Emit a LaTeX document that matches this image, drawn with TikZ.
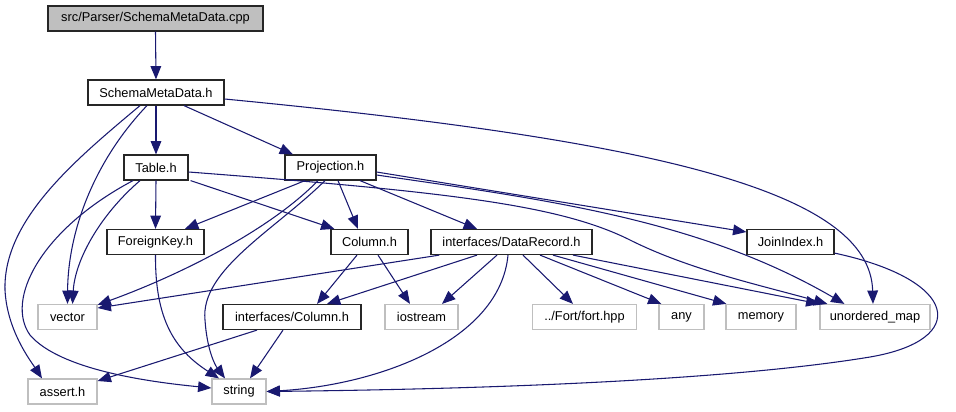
\documentclass[tikz,border=0pt]{standalone}
\usepackage{fontspec}
\setmainfont{Liberation Sans}
\usetikzlibrary{arrows.meta,calc}
\definecolor{edgeblue}{HTML}{191970}
\definecolor{lightgrayb}{HTML}{BFBFBF}
\begin{document}
\begin{tikzpicture}[x=0.75pt,y=-0.75pt,
  base/.style={draw, rectangle, inner sep=0pt, minimum height=18.75pt, font=\fontsize{9.6pt}{11pt}\selectfont, line width=0.9pt},
  mainbox/.style={base, draw=black!85},
  srcbox/.style={base, draw=black!85, fill=lightgrayb},
  extbox/.style={base, draw=lightgrayb},
  dep/.style={draw=edgeblue, line width=0.8pt, -{Triangle[length=10pt,width=8pt]}, fill=none},
]
\useasboundingbox (0,0) rectangle (956,411);
% nodes
\node[srcbox, minimum width=161.25pt] (cpp) at (155.5,18.5) {src/Parser/SchemaMetaData.cpp};
\node[mainbox, minimum width=102pt] (smd) at (156,92.5) {SchemaMetaData.h};
\node[mainbox, minimum width=48pt] (table) at (156,167.5) {Table.h};
\node[mainbox, minimum width=68.25pt] (proj) at (330.5,167.5) {Projection.h};
\node[mainbox, minimum width=72.75pt] (fk) at (155.5,242) {ForeignKey.h};
\node[mainbox, minimum width=57.75pt] (col) at (369.5,242) {Column.h};
\node[mainbox, minimum width=120.75pt] (dr) at (511.5,242) {interfaces/DataRecord.h};
\node[mainbox, minimum width=65.25pt] (ji) at (790.5,242) {JoinIndex.h};
\node[extbox, minimum width=44.25pt] (vector) at (67.5,317) {vector};
\node[mainbox, minimum width=103.5pt] (icol) at (292,317) {interfaces/Column.h};
\node[extbox, minimum width=54.75pt] (iostream) at (421.5,317) {iostream};
\node[extbox, minimum width=78pt] (fort) at (584.5,317) {../Fort/fort.hpp};
\node[extbox, minimum width=33.75pt] (any) at (681.5,317) {any};
\node[extbox, minimum width=52.5pt] (memory) at (761,317) {memory};
\node[extbox, minimum width=82.5pt] (umap) at (875,317) {unordered\_map};
\node[extbox, minimum width=51.75pt] (assert) at (62.5,391.5) {assert.h};
\node[extbox, minimum width=40.5pt] (string) at (239,391.5) {string};
% edges
\draw[dep] (cpp.south) -- (smd.north);
\draw[dep] (smd.south) -- (table.north);
\draw[dep] ($(smd.south)+(28,0)$) -- ($(proj.north)+(-37.5,0)$);
\draw[dep] ($(smd.east)+(0,6.5)$) .. controls (650,140) and (870,190) .. ($(umap.north)+(-2,0)$);
\draw[dep] ($(smd.south)+(-9,0)$) .. controls (95,160) and (68,230) .. ($(vector.north)+(0,0)$);
\draw[dep] ($(smd.south)+(-16,0)$) .. controls (75,160) and (3,220) .. (5,290) .. controls (7,330) and (30,360) .. ($(assert.north)+(-20.5,0)$);
\draw[dep] (table.south) -- (fk.north);
\draw[dep] ($(table.south east)+(2,0)$) -- ($(col.north west)+(4,0)$);
\draw[dep] ($(table.south)+(-16,0)$) .. controls (100,215) and (75,260) .. ($(vector.north)+(5,0)$);
\draw[dep] ($(table.south)+(-23,0)$) .. controls (40,230) and (5,300) .. (30,335) .. controls (60,370) and (150,382) .. ($(string.west)+(0,-3.5)$);
\draw[dep] ($(table.east)+(0,4.5)$) .. controls (450,192) and (560,205) .. (630,240) .. controls (690,270) and (760,285) .. ($(umap.north west)+(8,0)$);
\draw[dep] ($(proj.south)+(-25.5,0)$) -- ($(fk.north)+(29.5,0)$);
\draw[dep] ($(proj.south)+(7.5,0)$) -- ($(col.north)+(-11.5,0)$);
\draw[dep] ($(proj.south)+(29.5,0)$) -- ($(dr.north)+(-34.5,0)$);
\draw[dep] ($(proj.east)+(0,4.5)$) -- ($(ji.west)+(0,-10)$);
\draw[dep] ($(proj.south)+(-12.5,0)$) .. controls (270,230) and (180,275) .. ($(vector.north east)+(0,1)$);
\draw[dep] ($(proj.south)+(-5.5,0)$) .. controls (275,230) and (200,270) .. (205,320) .. controls (207,350) and (215,365) .. ($(string.north)+(-14,0)$);
\draw[dep] ($(proj.east)+(0,7.5)$) .. controls (550,200) and (700,220) .. ($(umap.north west)+(25,0)$);
\draw[dep] (fk.south) .. controls (155,320) and (175,350) .. ($(string.north)+(-20,0)$);
\draw[dep] ($(col.south)+(-12.5,0)$) -- ($(icol.north)+(25,0)$);
\draw[dep] ($(col.south)+(8.5,0)$) -- ($(iostream.north)+(-11.5,0)$);
\draw[dep] ($(dr.south west)+(9,0)$) -- ($(vector.east)+(0,-9)$);
\draw[dep] ($(dr.south)+(-34.5,0)$) -- ($(icol.north)+(35,0)$);
\draw[dep] ($(dr.south)+(-14.5,0)$) -- ($(iostream.north)+(20.5,0)$);
\draw[dep] ($(dr.south)+(-3.5,0)$) .. controls (500,340) and (380,385) .. (string.east);
\draw[dep] ($(dr.south)+(11.5,0)$) -- ($(fort.north)+(-11.5,0)$);
\draw[dep] ($(dr.south)+(28.5,0)$) -- ($(any.north west)+(3,0)$);
\draw[dep] ($(dr.south)+(41.5,0)$) -- ($(memory.north west)+(1,0)$);
\draw[dep] ($(dr.south)+(61.5,0)$) -- ($(umap.north west)+(0,0)$);
\draw[dep] ($(ji.south east)+(0,-2)$) .. controls (960,280) and (970,340) .. (870,357) .. controls (700,385) and (400,390) .. (string.east);
\draw[dep] ($(icol.south)+(-35,0)$) -- ($(assert.east)+(0,-10.5)$);
\draw[dep] ($(icol.south)+(-9,0)$) -- ($(string.north)+(11,0)$);
\end{tikzpicture}
\end{document}
